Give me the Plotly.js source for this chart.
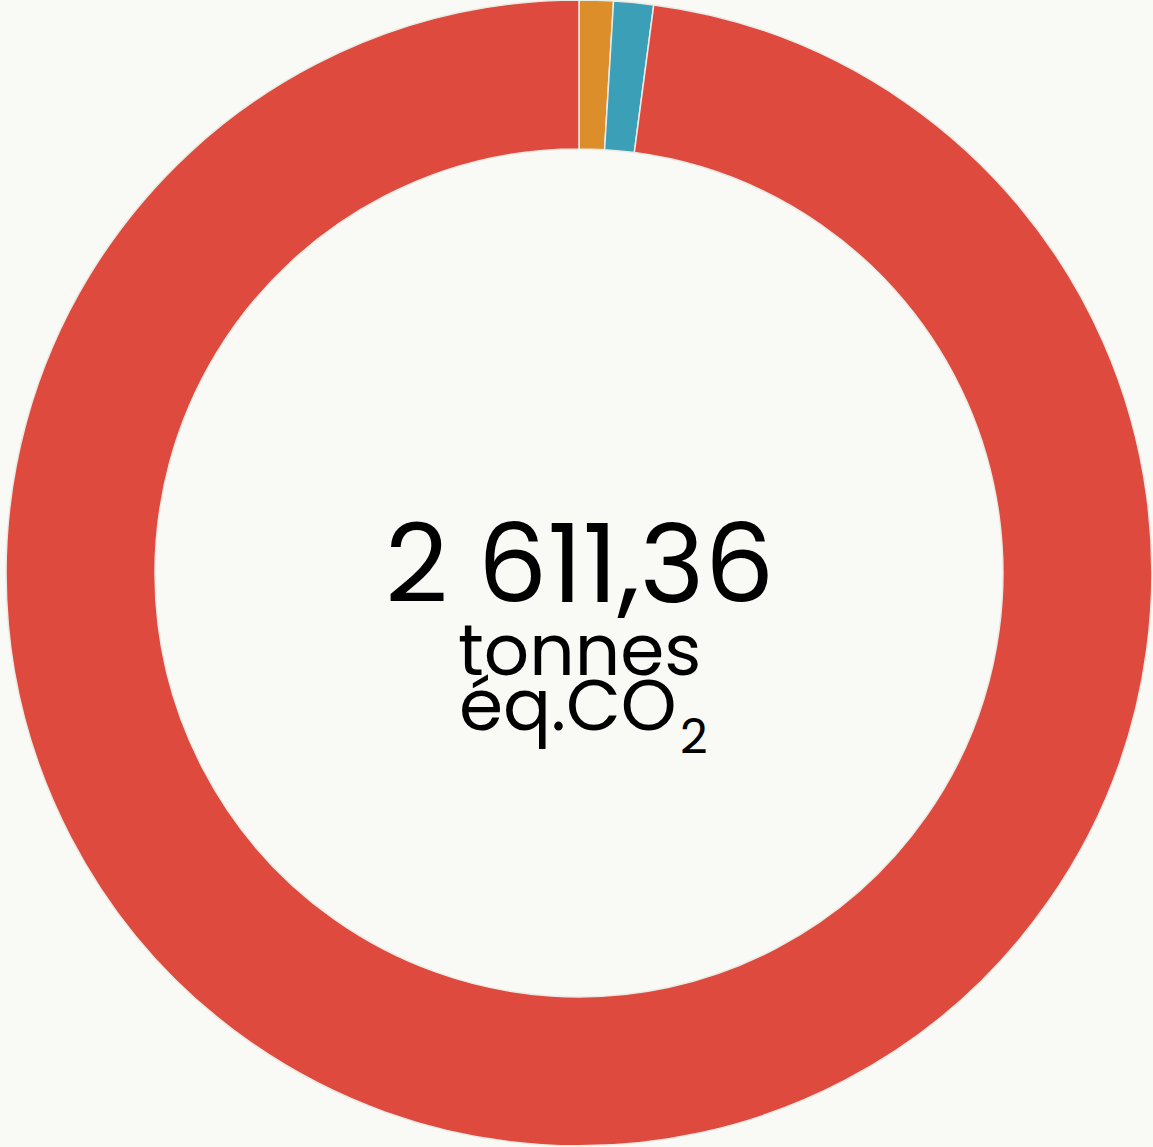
<!DOCTYPE html>
<html>
<head>
<meta charset="utf-8">
<script src="https://cdn.plot.ly/plotly-3.0.1.min.js"></script>
<style>html,body{margin:0;padding:0;background:#f9f9f5;}#chart{width:1153px;height:1147px;}</style>
</head>
<body>
<div id="chart"></div>
<script>
const categories = ["Catégorie A", "Catégorie B", "Catégorie C"];
const values = [25.1, 29.3, 2556.96];
const colors = ["#dc8e2a", "#3b9fb8", "#df4a3e"];
const totalLabel = "2 611,36";
const unitLine1 = "tonnes";
const unitLine2 = "éq.CO";
const unitSub = "2";

const font = "Poppins, 'Open Sans', Lato, sans-serif";

const data = [{
  type: "pie",
  labels: categories,
  values: values,
  hole: 0.74,
  sort: false,
  direction: "clockwise",
  rotation: 0,
  textinfo: "none",
  hoverinfo: "label+value",
  marker: { colors: colors, line: { color: "#ebebe6", width: 1.5 } },
  domain: { x: [0.0043, 1], y: [0.001, 1] },
  showlegend: false
}];

const W = 1153, H = 1147;
const layout = {
  width: W, height: H,
  margin: { l: 0, r: 0, t: 0, b: 0 },
  paper_bgcolor: "#f9f9f5",
  plot_bgcolor: "#f9f9f5",
  showlegend: false,
  annotations: [
    { text: totalLabel, x: 0.503, y: 1 - 563 / H, xref: "paper", yref: "paper", showarrow: false, xanchor: "center", yanchor: "middle", font: { family: font, size: 110, color: "#000" } },
    { text: unitLine1, x: 0.503, y: 1 - 650 / H, xref: "paper", yref: "paper", showarrow: false, xanchor: "center", yanchor: "middle", font: { family: font, size: 71, color: "#000" } },
    { text: unitLine2, x: 679 / W, y: 1 - 705 / H, xref: "paper", yref: "paper", showarrow: false, xanchor: "right", yanchor: "middle", font: { family: font, size: 71, color: "#000" } },
    { text: unitSub, x: 678 / W, y: 1 - 736 / H, xref: "paper", yref: "paper", showarrow: false, xanchor: "left", yanchor: "middle", font: { family: font, size: 48, color: "#000" } }
  ]
};

Plotly.newPlot("chart", data, layout, { displayModeBar: false, staticPlot: true });
</script>
</body>
</html>
